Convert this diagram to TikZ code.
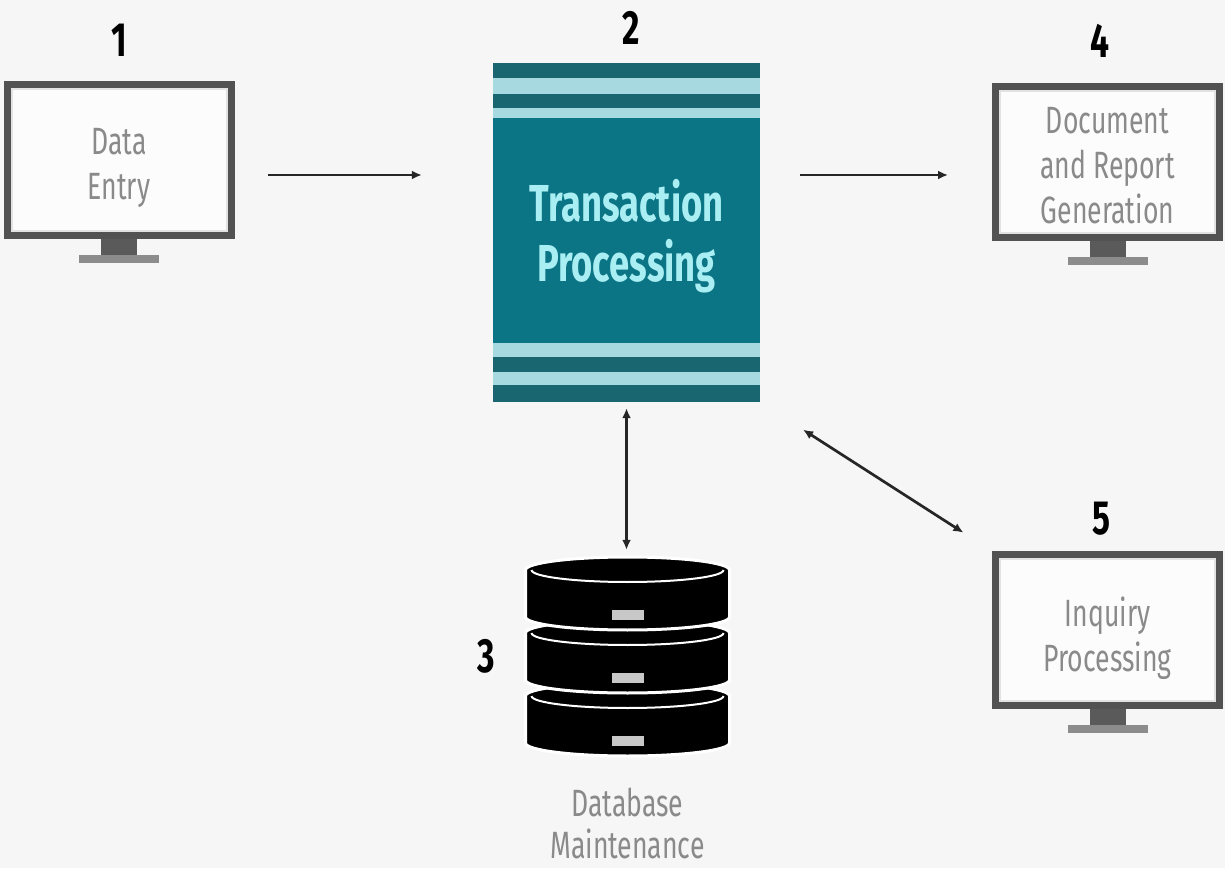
\documentclass[tikz,border=0pt]{standalone}
\usepackage[usenames,svgnames]{xcolor}
\usepackage{fontspec}
\usepackage{tikz}
\usetikzlibrary{positioning,arrows.meta}
\newfontfamily\condsans[FakeStretch=0.7]{Fira Sans}
\definecolor{colorbg}    {RGB}{246,246,246}
\definecolor{colorframe} {RGB}{82,82,82}
\definecolor{colorscreen}{RGB}{252,252,252}
\definecolor{colorrim}   {RGB}{226,226,226}
\definecolor{colorneck}  {RGB}{90,90,90}
\definecolor{colorbase}  {RGB}{140,140,140}
\definecolor{colortext}  {RGB}{138,138,138}
\definecolor{colorteal}  {RGB}{12,117,133}
\definecolor{colordark}  {RGB}{26,102,112}
\definecolor{colorlight} {RGB}{166,217,224}
\definecolor{colorlabel} {RGB}{169,238,243}
\definecolor{colorarrow} {RGB}{38,38,38}
\definecolor{colorslot}  {RGB}{200,200,200}

\begin{document}
\begin{tikzpicture}[
    x=1pt, y=1pt,
    >={Latex[length=10pt,width=9pt]},
    screen/.style={rectangle,draw=colorframe,line width=7pt,fill=colorscreen,minimum width=224pt,minimum height=151pt,inner sep=0pt},
    screentext/.style={inner sep=0pt,align=center,text=colortext,font={\condsans\fontsize{38}{45}\selectfont}},
    number/.style={inner sep=0pt,text=black,font={\condsans\bfseries\fontsize{48}{48}\selectfont}},
    process/.style={rectangle,fill=colorteal,minimum width=267pt,minimum height=339pt,inner sep=0pt},
    processtext/.style={inner sep=0pt,align=center,text=colorlabel,font={\condsans\bfseries\fontsize{52}{60}\selectfont}},
    caption/.style={inner sep=0pt,align=center,text=colortext,font={\condsans\fontsize{38}{42}\selectfont}},
    flow/.style={->,line width=2.7pt,draw=colorarrow},
    both/.style={<->,line width=2.7pt,draw=colorarrow},
]
    \path[use as bounding box,fill=colorbg] (0,0) rectangle (1225,868);

    % Screens
    \node[screen] (entry)   at (119,708)      {};
    \node[screen] (report)  at (1107.5,705.5) {};
    \node[screen] (inquiry) at (1107.5,238)   {};
    \foreach \s in {entry,report,inquiry} {
        \draw[colorrim,line width=2pt] ([shift={(8pt,-8pt)}]\s.north west) rectangle ([shift={(-8pt,8pt)}]\s.south east);
        \fill[colorneck] ([xshift=-18pt]\s.south) rectangle ([xshift=18pt,yshift=-17pt]\s.south);
        \fill[colorbase] ([xshift=-40pt,yshift=-16pt]\s.south) rectangle ([xshift=40pt,yshift=-24pt]\s.south);
    }
    \node[screentext] (entrytext)   at ([yshift=-8pt]entry.center)   {Data\\Entry};
    \node[screentext] (reporttext)  at ([yshift=-3pt]report.center)  {Document\\and Report\\Generation};
    \node[screentext] (inquirytext) at ([yshift=-8pt]inquiry.center) {Inquiry\\Processing};

    % Processing block
    \node[process] (tp) at (626.5,635.5) {};
    \foreach \a/\b/\c in {0/15/colordark, 15/31/colorlight, 31/45/colordark, 45/55/colorlight,
                          280/294/colorlight, 294/309/colordark, 309/322/colorlight, 322/339/colordark}
        \fill[\c] ([yshift=-\a pt]tp.north west) rectangle ([yshift=-\b pt]tp.north east);
    \node[processtext] (tptext) at ([yshift=-4pt]tp.center) {Transaction\\Processing};

    % Database
    \node[minimum width=205pt,minimum height=203pt,inner sep=0pt] (db) at (627.5,211.5) {};
    \begin{scope}[shift={(db.center)}]
        \foreach \t in {-39.5,23.5,86.5} {
            \filldraw[fill=black,draw=white,line width=3pt] (-102,\t) -- (-102,\t-47)
                arc[start angle=180,end angle=360,x radius=102,y radius=13] -- (102,\t)
                arc[start angle=0,end angle=180,x radius=102,y radius=13] -- cycle;
            \draw[white,line width=2pt] (-96,\t) arc[start angle=180,end angle=360,x radius=96,y radius=12];
            \fill[colorslot] (-16,\t-50) rectangle (16,\t-40);
        }
    \end{scope}
    \node[caption, below=30pt of db] (dbtext) {Database\\Maintenance};

    % Numbers
    \node[number, above=24pt of entry] (n1) {1};
    \node[number, above=18pt of tp, xshift=5pt] (n2) {2};
    \node[number, left=30pt of db] (n3) {3};
    \node[number, above=26pt of report, xshift=-8pt] (n4) {4};
    \node[number, above=15pt of inquiry, xshift=-6pt] (n5) {5};

    % Links
    \coordinate (in1)  at ([yshift=-15pt]entry.east);
    \coordinate (out4) at ([yshift=-12.5pt]report.west);
    \draw[flow, shorten <=33pt, shorten >=71pt] (in1) -- (in1 -| tp.west);
    \draw[flow, shorten <=40pt, shorten >=44pt] (out4 -| tp.east) -- (out4);
    \draw[both, shorten <=6pt, shorten >=5pt] (tp.south) -- (tp.south |- db.north);
    \draw[both, shorten <=51pt, shorten >=34pt] (tp.south east) -- (inquiry.north west);

\end{tikzpicture}
\end{document}
